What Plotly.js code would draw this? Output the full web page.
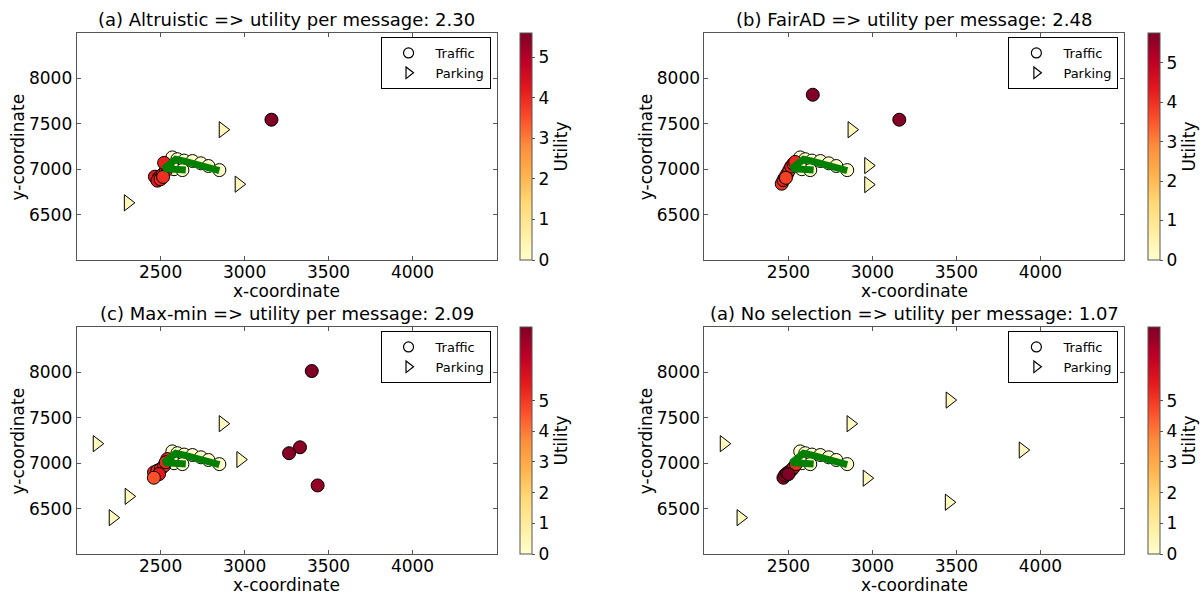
<!DOCTYPE html>
<html>
<head>
<meta charset="utf-8">
<script src="https://cdn.plot.ly/plotly-3.0.1.min.js"></script>
<style>html,body{margin:0;padding:0;background:#fff;}#chart{width:1200px;height:595px;}</style>
</head>
<body>
<div id="chart"></div>
<script>
// ---------- data ----------
const panelTitles = [
  "(a) Altruistic => utility per message: 2.30",
  "(b) FairAD => utility per message: 2.48",
  "(c) Max-min => utility per message: 2.09",
  "(a) No selection => utility per message: 1.07"
];
const xTicks = [2500, 3000, 3500, 4000];
const yTicks = [6500, 7000, 7500, 8000];
const utilityTicks = [0, 1, 2, 3, 4, 5];
const utilityMax = [5.6, 5.75, 7.4, 7.4];

// shared low-utility traffic points along the route
const baseX = [2570, 2600, 2640, 2690, 2740, 2785, 2850, 2580, 2630];
const baseY = [7130, 7110, 7095, 7090, 7065, 7035, 6990, 7000, 6990];
const baseU = [0, 0, 0.05, 0, 0, 0.05, 0, 0, 0];

// route (green line)
const routeX = [2850, 2740, 2640, 2590, 2555, 2520, 2580, 2650];
const routeY = [6985, 7050, 7090, 7110, 7060, 7005, 7000, 6990];

// panel-specific traffic points
const trafficX_a = [2466, 2491, 2511, 2531, 2540, 2521, 2481, 2500, 2515, 3160];
const trafficY_a = [6918, 6911, 6940, 6984, 7028, 7070, 6874, 6890, 6915, 7545];
const trafficU_a = [4.2, 4.1, 4.3, 4.0, 4.2, 4.1, 4.3, 4.0, 3.9, 5.6];

const trafficX_b = [2460, 2470, 2480, 2493, 2505, 2516, 2530, 2540, 2485, 2645, 3160];
const trafficY_b = [6840, 6880, 6910, 6950, 6990, 7030, 7060, 7080, 6905, 7820, 7545];
const trafficU_b = [4.0, 4.1, 4.0, 4.2, 4.1, 4.3, 4.2, 4.1, 3.8, 5.75, 5.7];

const trafficX_c = [2461, 2481, 2501, 2521, 2540, 2491, 2460, 2530, 3400, 3330, 3265, 3435];
const trafficY_c = [6900, 6918, 6936, 6973, 7046, 6880, 6840, 7010, 8015, 7175, 7110, 6755];
const trafficU_c = [5.4, 5.3, 5.5, 5.2, 5.4, 5.6, 4.6, 5.3, 7.4, 7.2, 7.3, 7.1];

const trafficX_d = [2470, 2480, 2492, 2505, 2518, 2530, 2545, 2500];
const trafficY_d = [6840, 6870, 6890, 6905, 6925, 6950, 6990, 6880];
const trafficU_d = [7.2, 7.0, 6.8, 6.9, 6.5, 6.0, 5.2, 7.4];

// parking points
const parkingX_a = [2870, 2965, 2305];
const parkingY_a = [7435, 6835, 6630];
const parkingU_a = [0.3, 0.3, 0.3];

const parkingX_b = [2876, 2975, 2975];
const parkingY_b = [7435, 7040, 6830];
const parkingU_b = [0.3, 0.3, 0.3];

const parkingX_c = [2120, 2870, 2975, 2310, 2215];
const parkingY_c = [7215, 7435, 7040, 6635, 6400];
const parkingU_c = [0.3, 0.3, 0.3, 0.3, 0.3];

const parkingX_d = [2115, 2870, 2966, 3460, 3455, 3895, 2215];
const parkingY_d = [7215, 7435, 6835, 7695, 6570, 7145, 6400];
const parkingU_d = [0.3, 0.3, 0.3, 0.3, 0.3, 0.3, 0.3];

// ---------- styling / layout ----------
const YlOrRd = [
  [0.0, '#ffffcc'], [0.125, '#ffeda0'], [0.25, '#fed976'], [0.375, '#feb24c'],
  [0.5, '#fd8d3c'], [0.625, '#fc4e2a'], [0.75, '#e31a1c'], [0.875, '#bd0026'], [1.0, '#800026']
];
const W = 1200, H = 595;
const px = v => v / W, py = v => 1 - v / H;

const panels = [
  {tx: trafficX_a, ty: trafficY_a, tu: trafficU_a, pxs: parkingX_a, pys: parkingY_a, pus: parkingU_a, left: 77, top: 33},
  {tx: trafficX_b, ty: trafficY_b, tu: trafficU_b, pxs: parkingX_b, pys: parkingY_b, pus: parkingU_b, left: 708, top: 33},
  {tx: trafficX_c, ty: trafficY_c, tu: trafficU_c, pxs: parkingX_c, pys: parkingY_c, pus: parkingU_c, left: 77, top: 327},
  {tx: trafficX_d, ty: trafficY_d, tu: trafficU_d, pxs: parkingX_d, pys: parkingY_d, pus: parkingU_d, left: 708, top: 327}
];
const PW = 422, PH = 227;
const font = "DejaVu Sans, Liberation Sans, sans-serif";

const traces = [];
const layout = {
  width: W, height: H,
  margin: {l: 0, r: 0, t: 0, b: 0},
  paper_bgcolor: '#fff', plot_bgcolor: '#fff',
  font: {family: font, size: 17, color: '#000'},
  showlegend: true,
  annotations: []
};

panels.forEach((p, i) => {
  const n = i + 1;
  const sfx = n === 1 ? '' : String(n);
  const xa = 'x' + sfx, ya = 'y' + sfx;
  const ca = 'coloraxis' + sfx;
  const lg = 'legend' + sfx;

  const axCommon = {
    showline: true, mirror: 'ticks', linecolor: '#555', linewidth: 1,
    ticks: 'inside', ticklen: 4, tickcolor: '#555', showgrid: false, zeroline: false,
    tickfont: {size: 17, color: '#000', family: font}, automargin: false, fixedrange: true
  };
  layout['xaxis' + sfx] = Object.assign({}, axCommon, {
    domain: [px(p.left), px(p.left + PW)], anchor: ya,
    range: [2000, 4500], tickvals: xTicks, ticktext: xTicks.map(String),
    ticklabelstandoff: -3
  });
  layout['yaxis' + sfx] = Object.assign({}, axCommon, {
    domain: [py(p.top + PH), py(p.top)], anchor: xa,
    range: [6000, 8500], tickvals: yTicks, ticktext: yTicks.map(String)
  });
  layout[ca] = {
    cmin: 0, cmax: utilityMax[i], colorscale: YlOrRd,
    colorbar: {
      x: px(p.left + 446), xanchor: 'left', y: py(p.top + PH / 2), yanchor: 'middle',
      len: PH / H, lenmode: 'fraction', thickness: 12, thicknessmode: 'pixels',
      xpad: 0, ypad: 0, outlinewidth: 1, outlinecolor: '#555',
      ticks: 'outside', ticklen: 3, tickcolor: '#555', tickvals: utilityTicks,
      tickfont: {size: 17, family: font, color: '#000'},
      title: {text: 'Utility', side: 'right', font: {size: 17, family: font, color: '#000'}}
    }
  };
  layout[lg] = {
    x: px(p.left + PW - 6), xanchor: 'right', y: py(p.top + 4), yanchor: 'top',
    bgcolor: '#fff', bordercolor: '#000', borderwidth: 1,
    font: {size: 13, family: font, color: '#000'}, itemwidth: 44, tracegroupgap: 0
  };

  // parking triangles
  traces.push({
    type: 'scatter', mode: 'markers', x: p.pxs, y: p.pys, xaxis: xa, yaxis: ya,
    showlegend: false, hoverinfo: 'skip',
    marker: {symbol: 'triangle-right', size: 14, color: p.pus, coloraxis: ca, line: {color: '#000', width: 1}}
  });
  // traffic circles: base first, then panel-specific
  traces.push({
    type: 'scatter', mode: 'markers', x: baseX.concat(p.tx), y: baseY.concat(p.ty), xaxis: xa, yaxis: ya,
    showlegend: false, hoverinfo: 'skip',
    marker: {symbol: 'circle', size: 13, color: baseU.concat(p.tu), coloraxis: ca, line: {color: '#000', width: 1}}
  });
  // route line
  traces.push({
    type: 'scatter', mode: 'lines', x: routeX, y: routeY, xaxis: xa, yaxis: ya,
    showlegend: false, hoverinfo: 'skip',
    line: {color: '#008000', width: 7}
  });
  // legend entries
  traces.push({
    type: 'scatter', mode: 'markers', x: [null], y: [null], xaxis: xa, yaxis: ya,
    name: 'Traffic', legend: lg,
    marker: {symbol: 'circle', size: 10, color: '#fff', line: {color: '#000', width: 1.2}}
  });
  traces.push({
    type: 'scatter', mode: 'markers', x: [null], y: [null], xaxis: xa, yaxis: ya,
    name: 'Parking', legend: lg,
    marker: {symbol: 'triangle-right', size: 10, color: '#fff', line: {color: '#000', width: 1.2}}
  });

  const cx = px(p.left + PW / 2);
  layout.annotations.push({
    text: panelTitles[i], xref: 'paper', yref: 'paper', x: cx, y: py(p.top - 14),
    xanchor: 'center', yanchor: 'middle', showarrow: false, font: {size: 18, family: font, color: '#000'}
  });
  layout.annotations.push({
    text: 'x-coordinate', xref: 'paper', yref: 'paper', x: cx, y: py(p.top + 257),
    xanchor: 'center', yanchor: 'middle', height: 17, borderpad: 0, showarrow: false,
    font: {size: 17, family: font, color: '#000'}
  });
  layout.annotations.push({
    text: 'y-coordinate', xref: 'paper', yref: 'paper', x: px(p.left - 59), y: py(p.top + PH / 2),
    xanchor: 'center', yanchor: 'middle', textangle: -90, showarrow: false, font: {size: 17, family: font, color: '#000'}
  });
});

Plotly.newPlot('chart', traces, layout, {displayModeBar: false, staticPlot: true});
</script>
</body>
</html>
